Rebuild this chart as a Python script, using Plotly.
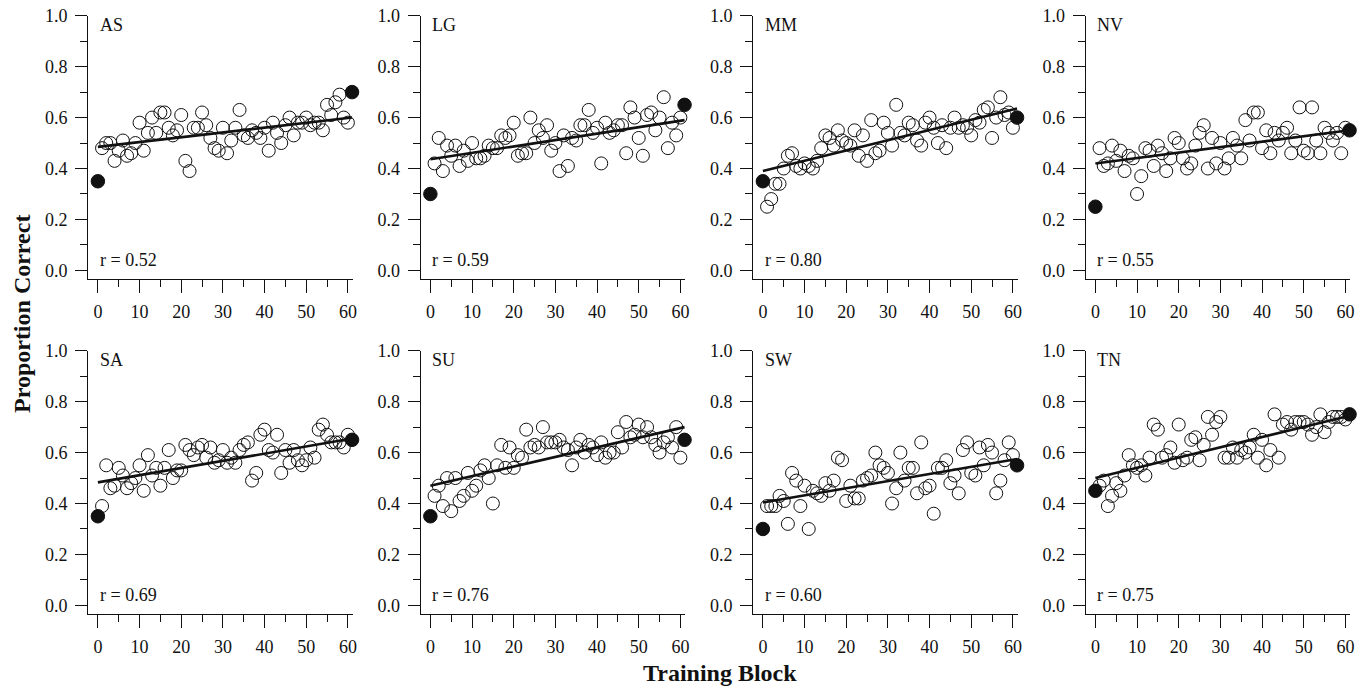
import plotly.graph_objects as go

# blocks 1..60 are open circles; block 0 (pre) and 61 (post) are filled
blocks = list(range(1, 61))
subjects = ["AS", "LG", "MM", "NV", "SA", "SU", "SW", "TN"]
r_values = [0.52, 0.59, 0.80, 0.55, 0.69, 0.76, 0.60, 0.75]

AS = [0.48, 0.50, 0.50, 0.43, 0.47, 0.51, 0.45, 0.46, 0.50, 0.58,
      0.47, 0.54, 0.60, 0.54, 0.62, 0.62, 0.56, 0.53, 0.55, 0.61,
      0.43, 0.39, 0.56, 0.56, 0.62, 0.57, 0.52, 0.48, 0.47, 0.56,
      0.46, 0.51, 0.56, 0.63, 0.53, 0.52, 0.55, 0.54, 0.52, 0.56,
      0.47, 0.58, 0.54, 0.50, 0.57, 0.60, 0.53, 0.58, 0.58, 0.60,
      0.57, 0.58, 0.58, 0.55, 0.65, 0.61, 0.66, 0.69, 0.60, 0.58]
LG = [0.42, 0.52, 0.39, 0.49, 0.45, 0.49, 0.41, 0.47, 0.43, 0.50,
      0.44, 0.44, 0.45, 0.49, 0.48, 0.48, 0.53, 0.52, 0.53, 0.58,
      0.45, 0.46, 0.46, 0.60, 0.50, 0.55, 0.52, 0.57, 0.47, 0.50,
      0.39, 0.53, 0.41, 0.52, 0.51, 0.57, 0.57, 0.63, 0.54, 0.56,
      0.42, 0.58, 0.54, 0.55, 0.57, 0.57, 0.46, 0.64, 0.60, 0.52,
      0.45, 0.61, 0.62, 0.55, 0.60, 0.68, 0.48, 0.58, 0.53, 0.60]
MM = [0.25, 0.28, 0.34, 0.34, 0.40, 0.45, 0.46, 0.41, 0.40, 0.42,
      0.41, 0.40, 0.43, 0.48, 0.53, 0.52, 0.49, 0.55, 0.51, 0.50,
      0.49, 0.55, 0.45, 0.53, 0.43, 0.59, 0.46, 0.47, 0.58, 0.54,
      0.49, 0.65, 0.54, 0.53, 0.58, 0.57, 0.51, 0.49, 0.58, 0.60,
      0.56, 0.50, 0.57, 0.48, 0.56, 0.60, 0.56, 0.57, 0.56, 0.53,
      0.59, 0.58, 0.63, 0.64, 0.52, 0.60, 0.68, 0.61, 0.62, 0.56]
NV = [0.48, 0.41, 0.42, 0.49, 0.43, 0.47, 0.39, 0.45, 0.44, 0.30,
      0.37, 0.48, 0.47, 0.41, 0.49, 0.46, 0.39, 0.44, 0.52, 0.50,
      0.44, 0.40, 0.42, 0.49, 0.54, 0.57, 0.40, 0.52, 0.42, 0.50,
      0.40, 0.44, 0.52, 0.49, 0.44, 0.59, 0.51, 0.62, 0.62, 0.48,
      0.55, 0.46, 0.54, 0.51, 0.54, 0.56, 0.46, 0.51, 0.64, 0.47,
      0.46, 0.64, 0.51, 0.46, 0.56, 0.54, 0.51, 0.54, 0.46, 0.56]
SA = [0.39, 0.55, 0.46, 0.47, 0.54, 0.51, 0.46, 0.48, 0.50, 0.55,
      0.45, 0.59, 0.51, 0.54, 0.47, 0.54, 0.61, 0.50, 0.53, 0.53,
      0.63, 0.61, 0.59, 0.62, 0.63, 0.58, 0.62, 0.56, 0.57, 0.61,
      0.56, 0.58, 0.56, 0.61, 0.63, 0.64, 0.49, 0.52, 0.67, 0.69,
      0.61, 0.60, 0.67, 0.52, 0.61, 0.56, 0.61, 0.57, 0.55, 0.57,
      0.62, 0.58, 0.69, 0.71, 0.67, 0.64, 0.64, 0.64, 0.62, 0.67]
SU = [0.43, 0.47, 0.39, 0.50, 0.37, 0.50, 0.41, 0.43, 0.52, 0.45,
      0.47, 0.53, 0.55, 0.50, 0.40, 0.55, 0.63, 0.54, 0.62, 0.54,
      0.59, 0.58, 0.69, 0.62, 0.63, 0.62, 0.70, 0.64, 0.64, 0.64,
      0.65, 0.62, 0.61, 0.55, 0.62, 0.65, 0.60, 0.63, 0.62, 0.59,
      0.64, 0.58, 0.60, 0.60, 0.68, 0.62, 0.72, 0.66, 0.67, 0.71,
      0.66, 0.70, 0.66, 0.63, 0.60, 0.64, 0.66, 0.62, 0.70, 0.58]
SW = [0.39, 0.39, 0.39, 0.43, 0.41, 0.32, 0.52, 0.49, 0.39, 0.47,
      0.30, 0.45, 0.44, 0.43, 0.48, 0.45, 0.49, 0.58, 0.57, 0.41,
      0.47, 0.42, 0.42, 0.49, 0.50, 0.51, 0.60, 0.55, 0.54, 0.52,
      0.40, 0.46, 0.60, 0.49, 0.54, 0.54, 0.44, 0.64, 0.46, 0.47,
      0.36, 0.54, 0.54, 0.57, 0.48, 0.51, 0.44, 0.61, 0.64, 0.52,
      0.51, 0.62, 0.55, 0.63, 0.60, 0.44, 0.49, 0.57, 0.64, 0.59]
TN = [0.47, 0.49, 0.39, 0.43, 0.48, 0.45, 0.51, 0.59, 0.55, 0.54,
      0.55, 0.51, 0.58, 0.71, 0.69, 0.58, 0.59, 0.62, 0.56, 0.71,
      0.57, 0.58, 0.65, 0.66, 0.57, 0.63, 0.74, 0.67, 0.72, 0.74,
      0.58, 0.58, 0.62, 0.58, 0.61, 0.60, 0.62, 0.67, 0.58, 0.65,
      0.55, 0.61, 0.75, 0.58, 0.71, 0.72, 0.69, 0.72, 0.72, 0.72,
      0.71, 0.67, 0.70, 0.75, 0.68, 0.72, 0.74, 0.74, 0.74, 0.73]
training = [AS, LG, MM, NV, SA, SU, SW, TN]

# filled points: pre-test (block 0) and post-test (block 61)
test_blocks = [0, 61]
pre_test = [0.35, 0.30, 0.35, 0.25, 0.35, 0.35, 0.30, 0.45]
post_test = [0.70, 0.65, 0.60, 0.55, 0.65, 0.65, 0.55, 0.75]

# fitted line, read at block 0 and block 61
fit_blocks = [0, 61]
fit_start = [0.485, 0.436, 0.39, 0.42, 0.483, 0.47, 0.404, 0.50]
fit_end = [0.60, 0.59, 0.636, 0.55, 0.655, 0.70, 0.575, 0.745]

FONT = "Palatino Linotype, Palatino, Book Antiqua, Liberation Serif, serif"
INK = "#111111"
W, H = 1368, 689

fig = go.Figure()

col_left = [88.3 + 332.5 * c for c in range(4)]
row_top = [15.7, 350.7]
row_bottom = [279.3, 614.3]
x_lo, x_hi = -2.3, 61.2
px_per_block = 250 / 60
panel_w = (x_hi - x_lo) * px_per_block

layout = {}
for i, name in enumerate(subjects):
    row, col = divmod(i, 4)
    n = i + 1
    xa = "x" if n == 1 else f"x{n}"
    ya = "y" if n == 1 else f"y{n}"

    fig.add_trace(go.Scatter(
        x=blocks, y=training[i], xaxis=xa, yaxis=ya, mode="markers",
        marker=dict(symbol="circle", size=13, color="rgba(0,0,0,0)",
                    line=dict(color=INK, width=1)),
        cliponaxis=False, showlegend=False, hoverinfo="x+y"))
    fig.add_trace(go.Scatter(
        x=fit_blocks, y=[fit_start[i], fit_end[i]], xaxis=xa, yaxis=ya,
        mode="lines", line=dict(color=INK, width=2.6),
        cliponaxis=False, showlegend=False, hoverinfo="skip"))
    fig.add_trace(go.Scatter(
        x=test_blocks, y=[pre_test[i], post_test[i]], xaxis=xa, yaxis=ya,
        mode="markers", marker=dict(symbol="circle", size=13.5, color=INK,
                                    line=dict(color=INK, width=1)),
        cliponaxis=False, showlegend=False, hoverinfo="x+y"))

    left = col_left[col] / W
    right = (col_left[col] + panel_w) / W
    bottom = 1 - row_bottom[row] / H
    top = 1 - row_top[row] / H

    common = dict(showgrid=False, zeroline=False, showline=True,
                  automargin=False,
                  linecolor=INK, linewidth=1.3, ticks="outside",
                  tickcolor=INK, tickwidth=1.3,
                  tickfont=dict(family=FONT, size=18, color=INK))
    layout["xaxis" if n == 1 else f"xaxis{n}"] = dict(
        common, domain=[left, right], range=[x_lo, x_hi], anchor=ya,
        tick0=0, dtick=10, ticklen=13, ticklabelstandoff=3,
        minor=dict(ticks="outside", tick0=0, dtick=5, ticklen=7,
                   tickcolor=INK, tickwidth=1.3))
    layout["yaxis" if n == 1 else f"yaxis{n}"] = dict(
        common, domain=[bottom, top], range=[-0.035, 1.0], anchor=xa,
        tick0=0, dtick=0.2, tickformat=".1f", ticklen=12, ticklabelstandoff=4,
        minor=dict(ticks="outside", tick0=0, dtick=0.1, ticklen=7,
                   tickcolor=INK, tickwidth=1.3))

    fig.add_annotation(x=0, y=0.962, xref=xa, yref=ya, text=name,
                       showarrow=False, xanchor="left", yanchor="middle",
                       font=dict(family=FONT, size=18, color=INK))
    fig.add_annotation(x=0, y=0.04, xref=xa, yref=ya,
                       text=f"r = {r_values[i]:.2f}",
                       showarrow=False, xanchor="left", yanchor="middle",
                       font=dict(family=FONT, size=18, color=INK))

fig.add_annotation(x=22 / W, y=1 - 314 / H, xref="paper", yref="paper",
                   text="<b>Proportion Correct</b>", textangle=-90,
                   showarrow=False, xanchor="center", yanchor="middle",
                   font=dict(family=FONT, size=24, color=INK))
fig.add_annotation(x=720 / W, y=1 - 673 / H, xref="paper", yref="paper",
                   text="<b>Training Block</b>",
                   showarrow=False, xanchor="center", yanchor="middle",
                   font=dict(family=FONT, size=24, color=INK))

fig.update_layout(layout)
fig.update_layout(template="none", width=W, height=H,
                  margin=dict(l=0, r=0, t=0, b=0, autoexpand=False),
                  paper_bgcolor="white", plot_bgcolor="white",
                  showlegend=False)

# drop the browser's default 8px body margin so the figure sits at (0, 0)
fig.write_html("out.html", config={"displayModeBar": False},
               post_script="document.body.style.margin = '0';")
